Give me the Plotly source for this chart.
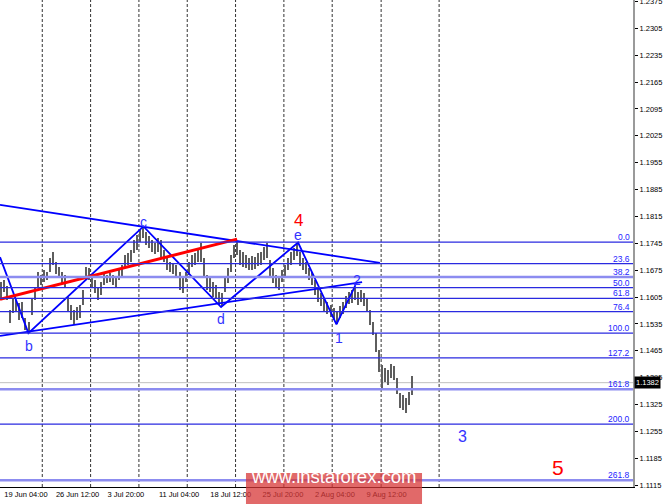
import plotly.graph_objects as go

# H4 bars (high / low per bar)
bar_high = [1.1644, 1.1649, 1.1634, 1.1571, 1.1603, 1.1597, 1.1590, 1.1592, 1.1550, 1.1540,
            1.1603, 1.1631, 1.1670, 1.1662, 1.1676, 1.1670, 1.1707, 1.1722, 1.1696, 1.1683,
            1.1670, 1.1662, 1.1605, 1.1584, 1.1571, 1.1579, 1.1584, 1.1623, 1.1683, 1.1681,
            1.1662, 1.1649, 1.1629, 1.1644, 1.1668, 1.1662, 1.1668, 1.1662, 1.1655, 1.1681,
            1.1689, 1.1715, 1.1720, 1.1728, 1.1754, 1.1767, 1.1780, 1.1788, 1.1775, 1.1764,
            1.1754, 1.1746, 1.1759, 1.1754, 1.1728, 1.1709, 1.1696, 1.1694, 1.1689, 1.1670,
            1.1655, 1.1670, 1.1696, 1.1715, 1.1720, 1.1733, 1.1746, 1.1707, 1.1662, 1.1657,
            1.1644, 1.1636, 1.1618, 1.1616, 1.1655, 1.1681, 1.1715, 1.1741, 1.1748, 1.1728,
            1.1722, 1.1715, 1.1707, 1.1712, 1.1709, 1.1720, 1.1722, 1.1735, 1.1746, 1.1702,
            1.1681, 1.1662, 1.1655, 1.1676, 1.1689, 1.1707, 1.1722, 1.1733, 1.1746, 1.1722,
            1.1707, 1.1696, 1.1681, 1.1670, 1.1649, 1.1629, 1.1616, 1.1603, 1.1592, 1.1584,
            1.1576, 1.1566, 1.1582, 1.1592, 1.1608, 1.1618, 1.1623, 1.1629, 1.1618, 1.1623,
            1.1616, 1.1603, 1.1571, 1.1540, 1.1511, 1.1467, 1.1428, 1.1420, 1.1415, 1.1431,
            1.1425, 1.1394, 1.1355, 1.1350, 1.1342, 1.1358, 1.1399]
bar_low = [1.1603, 1.1618, 1.1597, 1.1537, 1.1563, 1.1566, 1.1545, 1.1550, 1.1519, 1.1511,
           1.1558, 1.1597, 1.1629, 1.1636, 1.1644, 1.1649, 1.1670, 1.1689, 1.1665, 1.1657,
           1.1642, 1.1631, 1.1566, 1.1545, 1.1532, 1.1545, 1.1550, 1.1584, 1.1649, 1.1649,
           1.1629, 1.1616, 1.1597, 1.1610, 1.1636, 1.1642, 1.1644, 1.1636, 1.1629, 1.1649,
           1.1655, 1.1681, 1.1689, 1.1696, 1.1720, 1.1728, 1.1748, 1.1759, 1.1741, 1.1733,
           1.1722, 1.1717, 1.1722, 1.1709, 1.1696, 1.1676, 1.1670, 1.1665, 1.1660, 1.1623,
           1.1616, 1.1644, 1.1662, 1.1683, 1.1689, 1.1696, 1.1696, 1.1655, 1.1623, 1.1618,
           1.1605, 1.1603, 1.1584, 1.1582, 1.1618, 1.1642, 1.1670, 1.1707, 1.1715, 1.1689,
           1.1683, 1.1681, 1.1676, 1.1676, 1.1678, 1.1686, 1.1689, 1.1702, 1.1707, 1.1660,
           1.1642, 1.1629, 1.1623, 1.1644, 1.1655, 1.1676, 1.1689, 1.1702, 1.1712, 1.1686,
           1.1676, 1.1665, 1.1649, 1.1636, 1.1610, 1.1592, 1.1582, 1.1566, 1.1561, 1.1553,
           1.1545, 1.1535, 1.1550, 1.1561, 1.1576, 1.1587, 1.1590, 1.1597, 1.1584, 1.1592,
           1.1582, 1.1566, 1.1532, 1.1506, 1.1462, 1.1410, 1.1368, 1.1384, 1.1376, 1.1394,
           1.1389, 1.1352, 1.1316, 1.1311, 1.1303, 1.1324, 1.1350]
bar_x = list(range(len(bar_high)))
last_price = 1.1382

# wave count a-b-c-d-e, then 1-2
wave_x = [-0.5, 8.9, 47.0, 72.7, 98.2, 110.9, 117.2]
wave_y = [1.1709, 1.1511, 1.1789, 1.1579, 1.1747, 1.1534, 1.1636]

# triangle borders and the red line
upper_x = [-0.5, 125.3]
upper_y = [1.1845, 1.1694]
lower_x = [-0.5, 119.4]
lower_y = [1.1504, 1.1644]
red_x = [-0.5, 78.0]
red_y = [1.1599, 1.1756]

# fibonacci grid
fib_top = 1.1748
fib_bottom = 1.1511
fib_ratios = [0.0, 23.6, 38.2, 50.0, 61.8, 76.4, 100.0, 127.2, 161.8, 200.0, 261.8]
fib_text = ["0.0", "23.6", "38.2", "50.0", "61.8", "76.4", "100.0", "127.2", "161.8", "200.0", "261.8"]
fib_thick = ["38.2", "161.8", "261.8"]

wave_labels = ["b", "c", "d", "e", "4", "1", "2", "3", "5"]
label_x = [9.1, 47.0, 72.7, 98.2, 98.2, 111.7, 117.7, 152.5, 184.3]
label_y = [1.1478, 1.1800, 1.1548, 1.1767, 1.1805, 1.1498, 1.1649, 1.1243, 1.1160]
label_color = ["#3333ff"] * 4 + ["#ff0000"] + ["#3333ff"] * 3 + ["#ff0000"]
label_size = [14, 14, 14, 14, 17, 14, 14, 16, 21]

date_pos = [8.1, 25.2, 41.2, 58.8, 75.9, 93.2, 110.4, 127.5]
date_text = ["19 Jun 04:00", "26 Jun 12:00", "3 Jul 20:00", "11 Jul 04:00",
             "18 Jul 12:00", "25 Jul 20:00", "2 Aug 04:00", "9 Aug 12:00"]
grid_bars = [13.5, 29.5, 45.5, 61.5, 77.5, 93.5, 109.5, 125.7, 144.9]

fig = go.Figure()

fig.add_trace(go.Bar(
    x=bar_x,
    y=[h - l for h, l in zip(bar_high, bar_low)],
    base=bar_low,
    width=0.45,
    marker=dict(color="#5e5e5e", line=dict(width=0)),
    hoverinfo="skip",
))

for xs, ys, col, w in [(upper_x, upper_y, "#0000ff", 1.8),
                       (lower_x, lower_y, "#0000ff", 1.8),
                       (wave_x, wave_y, "#0000ff", 1.8),
                       (red_x, red_y, "#ff0000", 3)]:
    fig.add_trace(go.Scatter(x=xs, y=ys, mode="lines",
                             line=dict(color=col, width=w), hoverinfo="skip"))

shapes = []
for g in grid_bars:
    shapes.append(dict(type="line", xref="x", yref="paper", x0=g, x1=g, y0=0, y1=1,
                       line=dict(color="#333333", width=1, dash="3px,2px"), layer="below"))
shapes.append(dict(type="line", xref="paper", yref="y", x0=0, x1=1,
                   y0=last_price, y1=last_price,
                   line=dict(color="#c0c0c0", width=1), layer="below"))

annotations = []
for r, t in zip(fib_ratios, fib_text):
    lvl = fib_top - r / 100 * (fib_top - fib_bottom)
    if t in fib_thick:
        ln = dict(color="#8c8cf0", width=2.5)
    else:
        ln = dict(color="#2a2ae0", width=1.2)
    shapes.append(dict(type="line", xref="paper", yref="y", x0=0, x1=1, y0=lvl, y1=lvl,
                       line=ln, layer="above"))
    annotations.append(dict(xref="paper", yref="y", x=1, y=lvl, text=t, showarrow=False,
                            xanchor="right", yanchor="bottom", xshift=-1, yshift=-2,
                            font=dict(family="Liberation Sans", size=8.5, color="#2424ff")))

for t, lx, ly, c, s in zip(wave_labels, label_x, label_y, label_color, label_size):
    annotations.append(dict(x=lx, y=ly, text=t, showarrow=False,
                            font=dict(family="Liberation Sans", size=s, color=c)))

# price tag on the axis
annotations.append(dict(xref="paper", yref="y", x=1, y=last_price, text="1.1382",
                        showarrow=False, xanchor="left", xshift=1, bgcolor="#000000",
                        borderpad=1, font=dict(family="Liberation Sans", size=7.5, color="#ffffff")))

# watermark
shapes.append(dict(type="rect", xref="paper", yref="paper", x0=0.3886, x1=0.6667,
                   y0=0.0287, y1=-0.036, fillcolor="rgba(215,55,55,0.75)",
                   line=dict(width=0), layer="above"))
annotations.append(dict(xref="paper", yref="paper", x=0.527, y=-0.005, text="www.instaforex.com",
                        showarrow=False, font=dict(family="Liberation Sans", size=18.5, color="#ffffff")))

fig.update_layout(
    width=665, height=504,
    margin=dict(l=0, r=32, t=0, b=17),
    paper_bgcolor="#ffffff", plot_bgcolor="#ffffff",
    showlegend=False, bargap=0,
    shapes=shapes, annotations=annotations,
    font=dict(family="Liberation Sans", size=7.5, color="#000000"),
)
fig.update_xaxes(range=[-0.5, 209.1], showgrid=False, zeroline=False,
                 showline=True, linecolor="#000000", linewidth=1,
                 tickmode="array", tickvals=date_pos, ticktext=date_text,
                 ticks="", tickfont=dict(size=7.5, color="#000000"), automargin=False)
fig.update_yaxes(range=[1.11102, 1.23788], side="right", showgrid=False, zeroline=False,
                 showline=True, linecolor="#9a9a9a", linewidth=2,
                 tick0=1.1115, dtick=0.007, tickformat=".4f",
                 ticks="outside", ticklen=3, tickcolor="#000000",
                 ticklabeloverflow="allow",
                 tickfont=dict(size=7.5, color="#000000"), automargin=False)

# page body has a default 8px margin; drop it so the figure fills the window
fig.write_html("out.html", config={"displayModeBar": False},
               post_script="document.body.style.margin='0px';")
